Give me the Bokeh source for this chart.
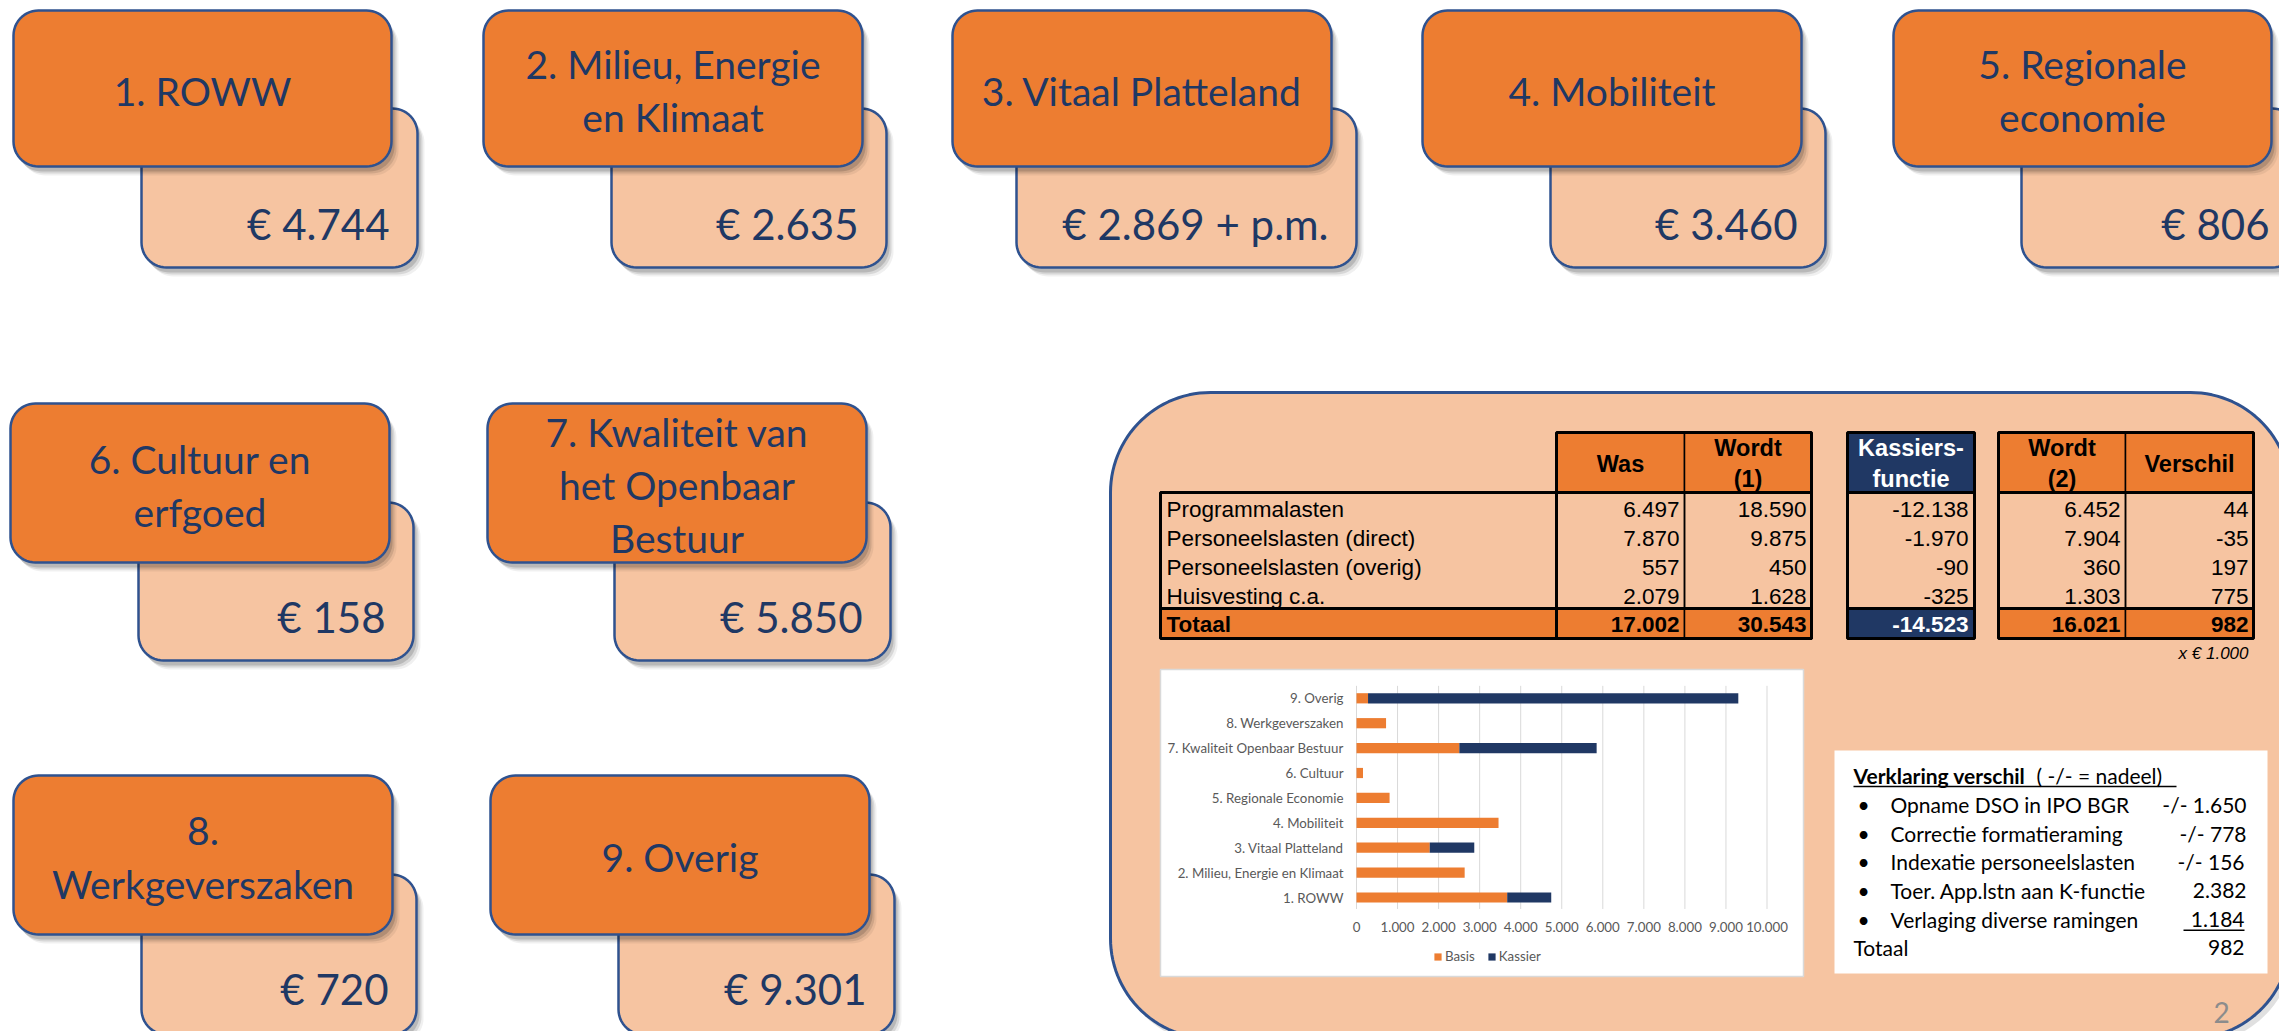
import numpy as np
from bokeh.plotting import figure
from bokeh.models import ColumnDataSource, Range1d, Legend, LegendItem
from bokeh.core.properties import value
from bokeh.embed import file_html
from bokeh.resources import INLINE

# ------------------------------------------------------------------ data
program_labels = ["1. ROWW", "2. Milieu, Energie\nen Klimaat", "3. Vitaal Platteland",
                  "4. Mobiliteit", "5. Regionale\neconomie", "6. Cultuur en\nerfgoed",
                  "7. Kwaliteit van\nhet Openbaar\nBestuur", "8.\nWerkgeverszaken", "9. Overig"]
program_amounts = [4744, 2635, 2869, 3460, 806, 158, 5850, 720, 9301]
program_suffix = ["", "", " + p.m.", "", "", "", "", "", ""]

chart_categories = ["1. ROWW", "2. Milieu, Energie en Klimaat", "3. Vitaal Platteland",
                    "4. Mobiliteit", "5. Regionale Economie", "6. Cultuur",
                    "7. Kwaliteit Openbaar Bestuur", "8. Werkgeverszaken", "9. Overig"]
basis = [3671, 2635, 1784, 3460, 806, 158, 2505, 720, 281]
kassier = [1073, 0, 1085, 0, 0, 0, 3345, 0, 9020]
x_ticks = [0, 1000, 2000, 3000, 4000, 5000, 6000, 7000, 8000, 9000, 10000]
legend_labels = ["Basis", "Kassier"]

table_rows = ["Programmalasten", "Personeelslasten (direct)", "Personeelslasten (overig)", "Huisvesting c.a."]
was = [6497, 7870, 557, 2079]
wordt1 = [18590, 9875, 450, 1628]
kassiersfunctie = [-12138, -1970, -90, -325]
wordt2 = [6452, 7904, 360, 1303]
verschil = [44, -35, 197, 775]
totals = [17002, 30543, -14523, 16021, 982]
table_headers = ["Was", "Wordt\n(1)", "Kassiers-\nfunctie", "Wordt\n(2)", "Verschil"]

expl_items = ["Opname DSO in IPO BGR", "Correctie formatieraming", "Indexatie personeelslasten",
              "Toer. App.lstn aan K-functie", "Verlaging diverse ramingen"]
expl_values = ["-/- 1.650", "-/- 778", "-/- 156", "2.382", "1.184"]
expl_total = "982"

# ------------------------------------------------------------------ style
ORANGE = "#ED7D31"
PEACH = "#F6C4A1"
NAVY = "#203864"
TXT = "#1F3864"
EDGE = "#2F528F"
CAL = "Lato"
ARIAL = "Liberation Sans"


def nl(v):
    s = f"{abs(v):,}".replace(",", ".")
    return ("-" if v < 0 else "") + s


W, H = 2279, 1031
p = figure(width=W, height=H, x_range=Range1d(0, W), y_range=Range1d(H, 0),
           output_backend="svg", toolbar_location=None, min_border=0,
           x_axis_type=None, y_axis_type=None)
p.outline_line_color = None
p.background_fill_color = "white"
p.border_fill_color = "white"


def rrect(x0, y0, x1, y1, r, n=14):
    xs, ys = [], []
    for cx, cy, a0 in [(x1 - r, y0 + r, -90), (x1 - r, y1 - r, 0), (x0 + r, y1 - r, 90), (x0 + r, y0 + r, 180)]:
        t = np.radians(np.linspace(a0, a0 + 90, n))
        xs += list(cx + r * np.cos(t))
        ys += list(cy + r * np.sin(t))
    return xs, ys


def shape(box, r, fill, line=EDGE, lw=2.5, shadow=True):
    x0, y0, x1, y1 = box
    if shadow:
        for dx, dy, a in [(7, 9, 0.06), (5, 7, 0.10), (3, 5, 0.14)]:
            xs, ys = rrect(x0 + dx, y0 + dy, x1 + dx, y1 + dy, r)
            p.patch(xs, ys, fill_color="black", fill_alpha=a, line_color=None)
    xs, ys = rrect(x0, y0, x1, y1, r)
    p.patch(xs, ys, fill_color=fill, line_color=line, line_width=lw)


def txt(xs, ys, texts, size, color, font=CAL, align="center", baseline="middle", style="normal", **kw):
    src = ColumnDataSource(dict(x=list(xs), y=list(ys), text=list(texts)))
    return p.text(x="x", y="y", text="text", source=src, text_font=value(font),
                  text_font_size=value(f"{size}px"), text_color=color, text_align=align,
                  text_baseline=baseline, text_font_style=style, **kw)


# ------------------------------------------------------------------ program boxes
orange_boxes = [(13, 10, 391, 166), (483, 10, 862, 166), (952, 10, 1331, 166), (1422, 10, 1801, 166),
                (1893, 10, 2271, 166), (10, 403, 389, 562), (487, 403, 866, 562),
                (13, 775, 392, 934), (490, 775, 869, 934)]
peach_boxes = [(141, 108, 417, 267), (611, 108, 886, 267), (1016, 108, 1356, 267), (1550, 108, 1825, 267),
               (2021, 108, 2297, 267), (138, 502, 413, 660), (614, 502, 890, 660),
               (141, 874, 416, 1034), (618, 874, 894, 1034)]

for ob, pb, lab, amt, suf in zip(orange_boxes, peach_boxes, program_labels, program_amounts, program_suffix):
    shape(pb, 25, PEACH)
    shape(ob, 25, ORANGE)
    lines = lab.split("\n")
    cx = (ob[0] + ob[2]) / 2
    cy = (ob[1] + ob[3]) / 2 + 2
    sp = 53
    ys = [cy + (i - (len(lines) - 1) / 2) * sp for i in range(len(lines))]
    txt([cx] * len(lines), ys, lines, 39, TXT)
    txt([pb[2] - 28], [min(pb[3], 1032) - 44], ["€ " + nl(amt) + suf], 42, TXT, align="right")

# ------------------------------------------------------------------ big panel
xs, ys = rrect(1110, 392, 2290, 1038, 100, n=30)
p.patch([x + 4 for x in xs], [y + 6 for y in ys], fill_color="black", fill_alpha=0.12, line_color=None)
p.patch(xs, ys, fill_color=PEACH, line_color=EDGE, line_width=3)

# ------------------------------------------------------------------ table
col_edges = {"label": (1160, 1556), "was": (1556, 1684), "w1": (1684, 1811),
             "kas": (1847, 1974), "w2": (1998, 2125), "ver": (2125, 2253)}
hdr_top, hdr_bot = 432, 492
row_h = 29
tot_top, tot_bot = 608, 638
data_cols = ["was", "w1", "kas", "w2", "ver"]
col_vals = [was, wordt1, kassiersfunctie, wordt2, verschil]
FS = 22.5

for key, head in zip(data_cols, table_headers):
    x0, x1 = col_edges[key]
    fill = NAVY if key == "kas" else ORANGE
    p.quad(left=x0, right=x1, top=hdr_top, bottom=hdr_bot, fill_color=fill, line_color="black", line_width=1.5)
    lines = head.split("\n")
    cy = (hdr_top + hdr_bot) / 2 + 1
    yy = [cy + (i - (len(lines) - 1) / 2) * 31 for i in range(len(lines))]
    txt([(x0 + x1) / 2] * len(lines), yy, lines, 23.5, "white" if key == "kas" else "black",
        font=ARIAL, style="bold")

for key in ["label"] + data_cols:
    x0, x1 = col_edges[key]
    p.quad(left=x0, right=x1, top=hdr_bot, bottom=tot_top, fill_color=None, line_color="black", line_width=1.5)

for key in ["label"] + data_cols:
    x0, x1 = col_edges[key]
    fill = NAVY if key == "kas" else ORANGE
    p.quad(left=x0, right=x1, top=tot_top, bottom=tot_bot, fill_color=fill, line_color="black", line_width=1.5)

for (a, b, top) in [("label", "w1", hdr_bot), ("was", "w1", hdr_top), ("kas", "kas", hdr_top), ("w2", "ver", hdr_top)]:
    x0 = col_edges[a][0]
    x1 = col_edges[b][1]
    p.quad(left=x0, right=x1, top=top, bottom=tot_bot, fill_color=None, line_color="black", line_width=3)
for key in ["label", "was", "w1", "kas", "w2", "ver"]:
    x0, x1 = col_edges[key]
    p.segment(x0=[x0], y0=[hdr_bot], x1=[x1], y1=[hdr_bot], line_color="black", line_width=3)
    p.segment(x0=[x0], y0=[tot_top], x1=[x1], y1=[tot_top], line_color="black", line_width=3)

row_y = [hdr_bot + row_h * (i + 0.5) + 2 for i in range(len(table_rows))]
txt([col_edges["label"][0] + 6] * len(table_rows), row_y, table_rows, FS, "black", font=ARIAL, align="left")
for key, vals in zip(data_cols, col_vals):
    pad = 6 if key == "kas" else 5
    txt([col_edges[key][1] - pad] * len(vals), row_y, [nl(v) for v in vals], FS, "black", font=ARIAL, align="right")
txt([col_edges["label"][0] + 6], [(tot_top + tot_bot) / 2 + 1], ["Totaal"], FS, "black", font=ARIAL,
    align="left", style="bold")
for key, tv in zip(data_cols, totals):
    pad = 6 if key == "kas" else 5
    txt([col_edges[key][1] - pad], [(tot_top + tot_bot) / 2 + 1], [nl(tv)], FS,
        "white" if key == "kas" else "black", font=ARIAL, align="right", style="bold")
txt([2248], [653], ["x € 1.000"], 17, "black", font=ARIAL, align="right", style="italic")

# ------------------------------------------------------------------ inset bar chart
p.quad(left=1160, right=1803, top=669, bottom=976, fill_color="white", line_color="#D9D9D9", line_width=1.5)


def linear_range(v0, px0, v1, px1, lo_px, hi_px):
    k = (v1 - v0) / (px1 - px0)
    return Range1d(start=v0 + (lo_px - px0) * k, end=v0 + (hi_px - px0) * k)


p.extra_x_ranges = {"cx": linear_range(0, 1356, 10000, 1766.5, 0, W)}
p.extra_y_ranges = {"cy": linear_range(0, 897, 8, 897 - 8 * 24.9, H, 0)}

p.segment(x0=x_ticks, y0=[-0.46] * len(x_ticks), x1=x_ticks, y1=[8.5] * len(x_ticks),
          line_color="#D9D9D9", line_width=1, x_range_name="cx", y_range_name="cy")

idx = list(range(len(chart_categories)))
bsrc = ColumnDataSource(dict(y=idx, basis=basis, total=[b + k for b, k in zip(basis, kassier)]))
r_basis = p.hbar(y="y", left=0, right="basis", height=0.41, source=bsrc, fill_color=ORANGE,
                 line_color=None, x_range_name="cx", y_range_name="cy")
r_kas = p.hbar(y="y", left="basis", right="total", height=0.41, source=bsrc, fill_color=NAVY,
               line_color=None, x_range_name="cx", y_range_name="cy")

txt([0] * len(idx), idx, chart_categories, 13.3, "#595959", align="right", x_offset=-13,
    x_range_name="cx", y_range_name="cy")
txt(x_ticks, [-0.46] * len(x_ticks), [nl(t) for t in x_ticks], 13.3, "#595959", y_offset=18,
    x_range_name="cx", y_range_name="cy")

legend = Legend(items=[LegendItem(label=legend_labels[0], renderers=[r_basis]),
                       LegendItem(label=legend_labels[1], renderers=[r_kas])],
                orientation="horizontal", location=(1433, H - 964),
                label_text_font=CAL, label_text_font_size="13.3px", label_text_color="#595959",
                glyph_width=9, glyph_height=9, label_standoff=3, spacing=12, padding=0, margin=0,
                background_fill_alpha=0, border_line_alpha=0, label_height=14)
p.add_layout(legend)

# ------------------------------------------------------------------ explanation box
p.quad(left=1834, right=2267, top=750, bottom=973, fill_color="white", line_color=None)
txt([1853], [775], ["Verklaring verschil"], 21, "black", align="left", style="bold")
txt([2036], [775], ["( -/- = nadeel)"], 21, "black", align="left")
p.segment(x0=[1853], y0=[786], x1=[2176], y1=[786], line_color="black", line_width=1.5)
mid_y = [804 + 28.7 * i for i in range(len(expl_items))]
txt([1857] * len(expl_items), mid_y, ["•"] * len(expl_items), 21, "black", align="left")
txt([1890] * len(expl_items), mid_y, expl_items, 21, "black", align="left")
txt([2246, 2246, 2244, 2246, 2244], mid_y, expl_values, 21, "black", align="right")
p.segment(x0=[2183], y0=[mid_y[-1] + 11], x1=[2244], y1=[mid_y[-1] + 11], line_color="black", line_width=1.5)
txt([1853], [947], ["Totaal"], 21, "black", align="left")
txt([2244], [947], [expl_total], 21, "black", align="right")

# page number
txt([2221], [1012], ["2"], 28, "#8C8C8C")

open("out.html", "w").write(file_html(p, INLINE))
